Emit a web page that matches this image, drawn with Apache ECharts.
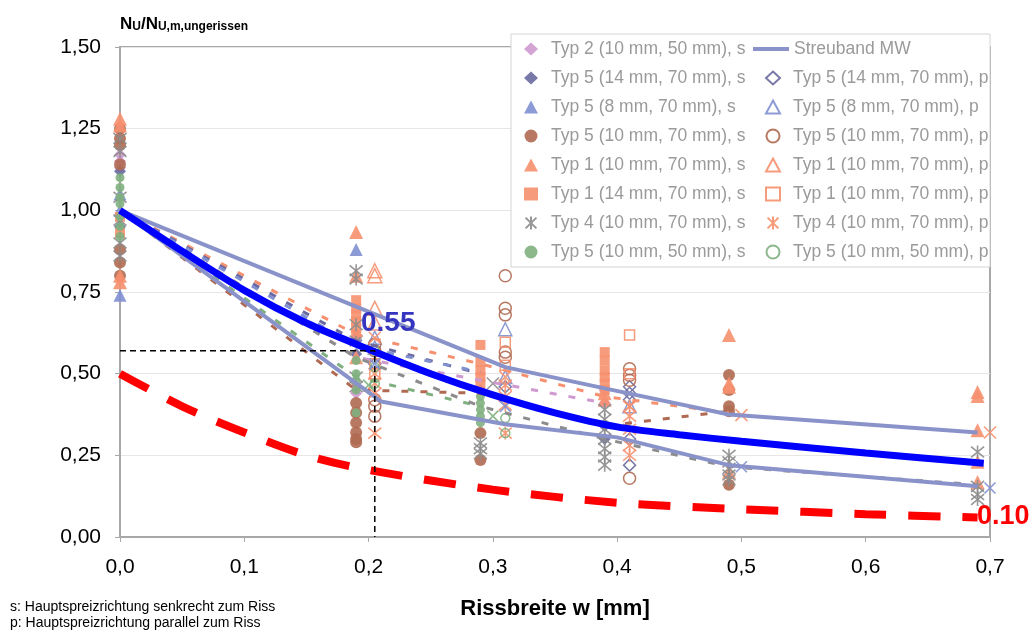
<!DOCTYPE html>
<html><head><meta charset="utf-8">
<script src="https://cdn.jsdelivr.net/npm/echarts/dist/echarts.min.js"></script>
<style>html,body{margin:0;padding:0;background:#fff}#c{width:1034px;height:632px}</style>
</head><body><div id="c"></div>
<script>
// ---------- tick labels ----------
const xTicks = ['0,0','0,1','0,2','0,3','0,4','0,5','0,6','0,7'];
const yTicks = ['0,00','0,25','0,50','0,75','1,00','1,25','1,50'];

// ---------- measured values [crack width w, N_U/N_U,m,ungerissen] ----------
const typ2_10_50_s = [[0,1.17],[0,1.15],[0,1.13],[0.19,0.46],[0.19,0.44],[0.39,0.45],[0.39,0.41]];
const typ5_14_70_s = [[0,1.12],[0,0.95],[0.19,0.60],[0.19,0.56],[0.29,0.45],[0.39,0.34],[0.39,0.30]];
const typ5_14_70_p = [[0.205,0.53],[0.31,0.46],[0.41,0.46],[0.41,0.44],[0.41,0.42],[0.41,0.30],[0.41,0.22]];
const typ5_8_70_s  = [[0,0.74],[0,1.0],[0,1.05],[0.19,0.88],[0.19,0.62]];
const typ5_8_70_p  = [[0.205,0.61],[0.205,0.58],[0.31,0.636],[0.31,0.49],[0.41,0.40]];
const typ5_10_70_s = [[0,1.25],[0,1.22],[0,1.2],[0,1.14],[0,0.88],[0,0.84],[0,0.8],[0.19,0.41],[0.19,0.38],[0.19,0.35],[0.19,0.32],[0.19,0.30],[0.19,0.29],[0.29,0.318],[0.29,0.236],[0.49,0.496],[0.49,0.45],[0.49,0.40],[0.49,0.385],[0.49,0.16]];
const typ5_10_70_p = [[0.205,0.59],[0.205,0.57],[0.205,0.42],[0.205,0.40],[0.205,0.37],[0.31,0.80],[0.31,0.70],[0.31,0.68],[0.31,0.566],[0.31,0.55],[0.41,0.515],[0.41,0.495],[0.41,0.48],[0.41,0.18]];
const typ1_10_70_s = [[0,1.28],[0,1.26],[0,0.80],[0,0.78],[0.19,0.934],[0.19,0.80],[0.19,0.55],[0.39,0.44],[0.39,0.42],[0.49,0.618],[0.49,0.47],[0.49,0.46],[0.49,0.20],[0.69,0.444],[0.69,0.432],[0.69,0.327],[0.69,0.23],[0.69,0.168]];
const typ1_10_70_p = [[0.205,0.815],[0.205,0.80],[0.205,0.70],[0.205,0.655]];
const typ1_14_70_s = [[0,0.98],[0,0.93],[0.19,0.725],[0.19,0.70],[0.19,0.68],[0.19,0.66],[0.19,0.64],[0.19,0.62],[0.29,0.588],[0.29,0.536],[0.29,0.51],[0.29,0.49],[0.29,0.47],[0.39,0.566],[0.39,0.54],[0.39,0.51],[0.39,0.49],[0.39,0.47],[0.39,0.45]];
const typ1_10_70_p_sq = [[0.205,0.53],[0.205,0.50],[0.31,0.596],[0.31,0.526],[0.41,0.618],[0.41,0.50]];
const typ4_10_70_s = [[0,1.22],[0,1.18],[0,1.04],[0,0.97],[0,0.9],[0,0.86],[0.19,0.815],[0.19,0.79],[0.19,0.65],[0.19,0.6],[0.19,0.49],[0.19,0.46],[0.29,0.288],[0.29,0.27],[0.29,0.255],[0.39,0.39],[0.39,0.36],[0.39,0.33],[0.39,0.30],[0.39,0.27],[0.39,0.245],[0.39,0.22],[0.49,0.25],[0.49,0.23],[0.49,0.21],[0.49,0.19],[0.49,0.175],[0.69,0.26],[0.69,0.155],[0.69,0.13],[0.69,0.115]];
const typ4_10_70_p = [[0.205,0.50],[0.205,0.47],[0.205,0.44],[0.205,0.318],[0.31,0.465],[0.31,0.43],[0.31,0.404],[0.31,0.318],[0.41,0.40],[0.41,0.37],[0.41,0.33],[0.41,0.28],[0.41,0.25]];
const typ5_10_50_s = [[0,1.1],[0,1.07],[0,1.04],[0,1.02],[0,0.98],[0,0.95],[0,0.92],[0.19,0.54],[0.19,0.50],[0.19,0.48],[0.19,0.45],[0.19,0.38],[0.29,0.43],[0.29,0.41],[0.29,0.39],[0.29,0.37],[0.29,0.35]];
const typ5_10_50_p = [[0.205,0.57],[0.205,0.52],[0.205,0.47],[0.31,0.364],[0.31,0.318]];
// crosses without legend entry
const crossSalmon = [[0.205,0.61],[0.31,0.49],[0.41,0.40],[0.5,0.373],[0.7,0.32]];
const crossGreen  = [[0.2,0.465],[0.3,0.37]];
const crossBlue   = [[0.205,0.53],[0.31,0.40],[0.5,0.215],[0.7,0.15]];
const crossGray   = [[0.30,0.47]];

// ---------- trend lines (means per series) ----------
const trendTyp1   = [[0,1],[0.19,0.62],[0.29,0.53],[0.39,0.43],[0.49,0.38]];
const trendSlate  = [[0,1],[0.19,0.60],[0.29,0.50]];
const trendBlue   = [[0,1],[0.19,0.585],[0.29,0.505]];
const trendPink   = [[0,1],[0.19,0.55],[0.29,0.48],[0.39,0.41]];
const trendBrown  = [[0,1],[0.19,0.45],[0.29,0.44],[0.39,0.34],[0.49,0.385]];
const trendGreen  = [[0,1],[0.19,0.49],[0.29,0.40]];
const trendGray   = [[0,1],[0.19,0.55],[0.29,0.40],[0.39,0.30],[0.49,0.215],[0.69,0.16]];

// ---------- bands and mean curves ----------
const bandUpper = [[0,1],[0.19,0.705],[0.31,0.52],[0.39,0.455],[0.49,0.375],[0.69,0.32]];
const bandLower = [[0,1],[0.21,0.415],[0.31,0.345],[0.40,0.305],[0.49,0.22],[0.69,0.155]];
const meanMW    = [[0,1.0],[0.05,0.875],[0.1,0.755],[0.15,0.655],[0.2,0.575],[0.25,0.50],[0.3,0.435],[0.35,0.38],[0.4,0.337],[0.45,0.313],[0.5,0.293],[0.6,0.257],[0.695,0.226]];
const designRed = [[0,0.5],[0.05,0.40],[0.1,0.32],[0.15,0.25],[0.2,0.205],[0.3,0.145],[0.4,0.105],[0.5,0.085],[0.6,0.07],[0.69,0.06]];
const readoff   = [[0,0.57],[0.205,0.57],[0.205,0]];

const FONT = 'Liberation Sans, Arial, sans-serif';
const C = {pink:'#cf9acf', slate:'#6a6aa0', blue:'#8090d0', brown:'#b06a52', salmon:'#f6906f', gray:'#8c8c8c', green:'#80b080', band:'#8a93c9'};
const AST = 'path://M0,0L10,10M10,0L0,10M5,-1L5,11';
const CROSS = 'path://M0,0L10,10M10,0L0,10';

function sc(name, data, symbol, color, hollow, size){
  return {type:'scatter', name, data, symbol, symbolSize:size, z:2,
    itemStyle: hollow ? {color:'rgba(255,255,255,0)', borderColor:color, borderWidth:1.5, opacity:0.9}
                      : {color:color, opacity:0.9}};
}
function strokeOnly(name, data, symbol, color, size){
  return {type:'scatter', name, data, symbol, symbolSize:size, z:2,
    itemStyle:{color:'rgba(255,255,255,0)', borderColor:color, borderWidth:1.6, opacity:0.9}};
}
function trend(data, color){
  return {type:'line', data, showSymbol:false, symbol:'none', silent:true, z:3,
    lineStyle:{color, width:3, type:[7,12]}};
}

const N = {
  a:'Typ 2 (10 mm, 50 mm), s', b:'Typ 5 (14 mm, 70 mm), s', c:'Typ 5 (8 mm, 70 mm), s', d:'Typ 5 (10 mm, 70 mm), s',
  e:'Typ 1 (10 mm, 70 mm), s', f:'Typ 1 (14 mm, 70 mm), s', g:'Typ 4 (10 mm, 70 mm), s', h:'Typ 5 (10 mm, 50 mm), s',
  A:'Streuband MW', B:'Typ 5 (14 mm, 70 mm), p', Cc:'Typ 5 (8 mm, 70 mm), p', D:'Typ 5 (10 mm, 70 mm), p',
  E:'Typ 1 (10 mm, 70 mm), p', F:'Typ 1 (10 mm, 70 mm), p\u200b', G:'Typ 4 (10 mm, 70 mm), p', H:'Typ 5 (10 mm, 50 mm), p'
};

const series = [
  sc(N.a, typ2_10_50_s, 'diamond', C.pink, false, 12),
  sc(N.b, typ5_14_70_s, 'diamond', C.slate, false, 12),
  sc(N.B, typ5_14_70_p, 'diamond', C.slate, true, 12),
  sc(N.c, typ5_8_70_s, 'triangle', C.blue, false, 13),
  sc(N.Cc, typ5_8_70_p, 'triangle', C.blue, true, 13),
  sc(N.d, typ5_10_70_s, 'circle', C.brown, false, 12),
  sc(N.D, typ5_10_70_p, 'circle', C.brown, true, 12),
  sc(N.e, typ1_10_70_s, 'triangle', C.salmon, false, 14),
  sc(N.E, typ1_10_70_p, 'triangle', C.salmon, true, 14),
  sc(N.f, typ1_14_70_s, 'rect', C.salmon, false, 10),
  sc(N.F, typ1_10_70_p_sq, 'rect', C.salmon, true, 10),
  strokeOnly(N.g, typ4_10_70_s, AST, C.gray, 13),
  strokeOnly(N.G, typ4_10_70_p, AST, C.salmon, 13),
  sc(N.h, typ5_10_50_s, 'circle', C.green, false, 9),
  sc(N.H, typ5_10_50_p, 'circle', C.green, true, 9),
  strokeOnly('x1', crossSalmon, CROSS, C.salmon, 12),
  strokeOnly('x2', crossGreen, CROSS, C.green, 11),
  strokeOnly('x3', crossBlue, CROSS, C.blue, 11),
  strokeOnly('x4', crossGray, CROSS, C.gray, 12),
  trend(trendTyp1, C.salmon), trend(trendSlate, C.slate), trend(trendBlue, C.blue), trend(trendPink, C.pink),
  trend(trendBrown, C.brown), trend(trendGreen, C.green), trend(trendGray, C.gray),
  {type:'line', name:N.A, data:bandUpper, symbol:'none', z:4, lineStyle:{color:C.band, width:4}, itemStyle:{color:C.band}},
  {type:'line', name:'Streuband unten', data:bandLower, symbol:'none', z:4, lineStyle:{color:C.band, width:4}},
  {type:'line', name:'MW', data:meanMW, symbol:'none', smooth:0.3, z:5, lineStyle:{color:'#0000ff', width:7}},
  {type:'line', name:'Bemessung', data:designRed, symbol:'none', smooth:0.3, z:5, lineStyle:{color:'#ff0000', width:8, type:[32,22]}},
  {type:'line', name:'Ablesung', data:readoff, symbol:'none', z:6, lineStyle:{color:'#000', width:1.5, type:[6,4]}}
];

const legText = {fontFamily:FONT, fontSize:17.5, color:'#9a9a9a', lineHeight:18, padding:[0,0,0,8]};
const chart = echarts.init(document.getElementById('c'), null, {renderer:'canvas'});
chart.setOption({
  animation:false,
  backgroundColor:'#fff',
  grid:{left:120, right:44, top:47, bottom:95, show:true, borderColor:'#a8a8a8', borderWidth:2},
  xAxis:{type:'value', min:0, max:0.7, interval:0.1,
    name:'Rissbreite w [mm]', nameLocation:'middle', nameGap:61,
    nameTextStyle:{fontFamily:FONT, fontSize:22, fontWeight:'bold', color:'#000'},
    axisLine:{lineStyle:{color:'#a8a8a8', width:2}}, axisTick:{show:true, length:5, lineStyle:{color:'#a8a8a8'}},
    splitLine:{show:false},
    axisLabel:{fontFamily:FONT, fontSize:21, color:'#000', margin:20, formatter:(v)=>xTicks[Math.round(v*10)]}},
  yAxis:{type:'value', min:0, max:1.5, interval:0.25,
    axisLine:{show:true, lineStyle:{color:'#a8a8a8', width:2}}, axisTick:{show:true, length:5, lineStyle:{color:'#a8a8a8'}},
    splitLine:{show:true, lineStyle:{color:'#e6e6e6', width:1}},
    axisLabel:{fontFamily:FONT, fontSize:21, color:'#000', margin:19, formatter:(v)=>yTicks[Math.round(v*4)]}},
  legend:[
    {orient:'vertical', left:524, top:40, padding:0, itemWidth:14, itemHeight:13, itemGap:11, z:60, selectedMode:false,
     textStyle:legText, data:[N.a,N.b,N.c,N.d,N.e,N.f,N.g,N.h]},
    {orient:'vertical', left:753, top:40, padding:0, itemWidth:36, itemHeight:4, itemGap:11, z:60, selectedMode:false,
     textStyle:Object.assign({}, legText, {padding:[0,0,0,0]}), data:[{name:N.A, icon:'rect'}]},
    {orient:'vertical', left:765, top:69, padding:0, itemWidth:14, itemHeight:13, itemGap:11, z:60, selectedMode:false,
     textStyle:legText, data:[N.B,N.Cc,N.D,N.E,N.F,N.G,N.H]}
  ],
  graphic:[
    {type:'rect', z:50, shape:{x:511, y:34, width:479, height:233}, style:{fill:'#fff', stroke:'#d4d4d4', lineWidth:1}},
    {type:'rect', z:70, shape:{x:991, y:30, width:43, height:240}, style:{fill:'#fff'}},
    {type:'text', z:80, left:120, top:16, style:{
      text:'{n|N}{s|U}{n|/N}{s|U,m,ungerissen}',
      rich:{n:{fontFamily:FONT, fontSize:17, fontWeight:'bold', fill:'#000', lineHeight:20, verticalAlign:'bottom'},
            s:{fontFamily:FONT, fontSize:12, fontWeight:'bold', fill:'#000', lineHeight:10, verticalAlign:'bottom'}}}},
    {type:'text', z:80, left:361, top:309, style:{text:'0.55', fontFamily:FONT, fontSize:28, fontWeight:'bold', fill:'#3535c0'}},
    {type:'text', z:80, left:977, top:503, style:{text:'0.10', fontFamily:FONT, fontSize:27, fontWeight:'bold', fill:'#ff0000'}},
    {type:'text', z:80, left:10, top:600, style:{text:'s: Hauptspreizrichtung senkrecht zum Riss', fontFamily:FONT, fontSize:14, fill:'#000'}},
    {type:'text', z:80, left:10, top:616, style:{text:'p: Hauptspreizrichtung parallel zum Riss', fontFamily:FONT, fontSize:14, fill:'#000'}}
  ],
  series
});
</script></body></html>
